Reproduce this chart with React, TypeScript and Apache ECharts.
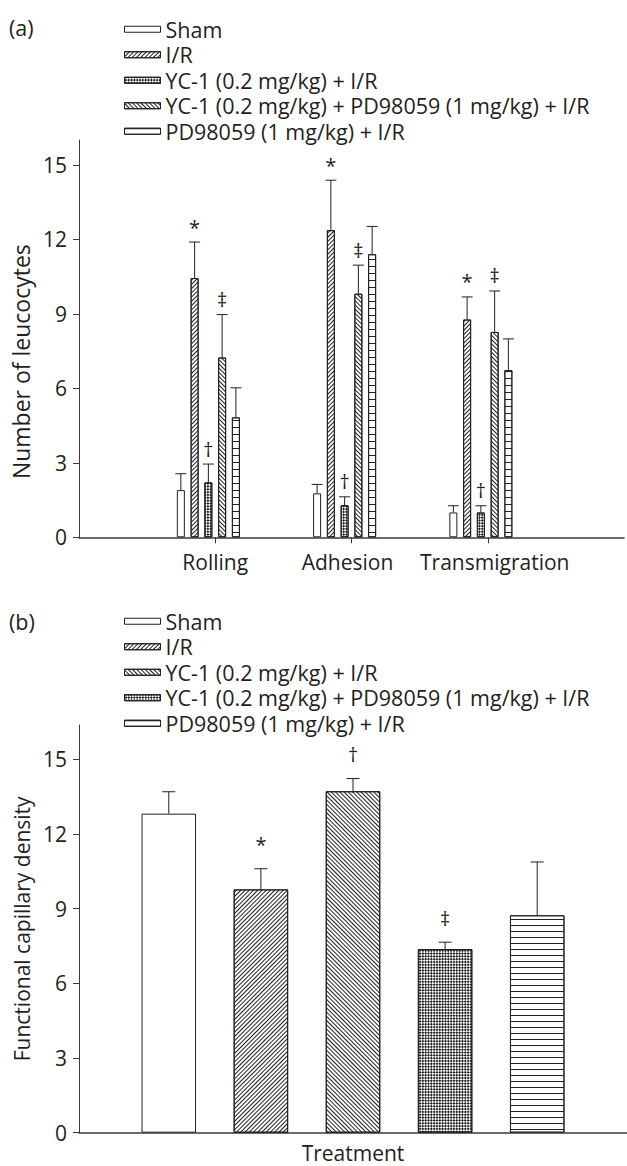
import React, { useEffect, useRef } from "react";
import * as echarts from "echarts";

const FONT = "'Open Sans', 'Noto Sans', sans-serif";
const INK = "#231f20";
const AXIS = "#3a3a3a";

// ---------- Panel (a) data ----------
const catsA = ["Rolling", "Adhesion", "Transmigration"];
const namesA = [
  "Sham",
  "I/R",
  "YC-1 (0.2 mg/kg) + I/R",
  "YC-1 (0.2 mg/kg) + PD98059 (1 mg/kg) + I/R",
  "PD98059 (1 mg/kg) + I/R",
];
const shamA = [1.9, 1.77, 1.0];
const irA = [10.44, 12.37, 8.77];
const ycA = [2.21, 1.29, 1.0];
const ycpdA = [7.24, 9.81, 8.27];
const pdA = [4.83, 11.4, 6.73];
const shamErrA = [0.66, 0.36, 0.27];
const irErrA = [1.45, 2.01, 0.91];
const ycErrA = [0.74, 0.34, 0.27];
const ycpdErrA = [1.73, 1.15, 1.65];
const pdErrA = [1.19, 1.12, 1.26];
const sigA = ["", "*", "†", "‡", ""];

// ---------- Panel (b) data ----------
const catsB = ["Treatment"];
const namesB = [
  "Sham",
  "I/R",
  "YC-1 (0.2 mg/kg) + I/R",
  "YC-1 (0.2 mg/kg) + PD98059 (1 mg/kg) + I/R",
  "PD98059 (1 mg/kg) + I/R",
];
const valuesB = [12.81, 9.77, 13.71, 7.37, 8.73];
const errB = [0.88, 0.83, 0.51, 0.28, 2.14];
const sigB = ["", "*", "†", "‡", ""];

const yTicks = [0, 3, 6, 9, 12, 15];

// ---------- patterns ----------
const lineDecal = (gap: number, rotation: number) => ({
  symbol: "rect",
  symbolSize: 1,
  color: INK,
  backgroundColor: "#ffffff",
  dashArrayX: [1, 0],
  dashArrayY: [1, gap],
  rotation,
});
const fwd = lineDecal(2, -Math.PI / 4);
const back = lineDecal(2, Math.PI / 4);
const horizA = lineDecal(6, 0);
const horizB = lineDecal(5, 0);
const cross = {
  symbol: "rect",
  symbolSize: 1,
  color: INK,
  backgroundColor: "#ffffff",
  dashArrayX: [
    [2, 2],
    [0, 2, 2, 0],
  ],
  dashArrayY: [2, 0],
  rotation: Math.PI / 4,
};

const decalsA: any[] = [null, fwd, cross, back, horizA];
const decalsB: any[] = [null, fwd, back, cross, horizB];

const txt = (size: number) => ({ color: INK, fontSize: size, fontFamily: FONT });

function yAxisCfg(name: string, max: number, nameSize: number, pad: number) {
  return {
    type: "value",
    min: 0,
    max,
    interval: 3,
    name,
    nameLocation: "middle",
    nameGap: 47,
    nameTextStyle: { ...txt(nameSize), lineHeight: nameSize, padding: [0, pad, 0, 0] },
    axisLine: { show: true, lineStyle: { color: AXIS, width: 1 } },
    axisTick: { show: true, length: 6, customValues: yTicks, lineStyle: { color: AXIS } },
    axisLabel: { ...txt(21), lineHeight: 21, margin: 12, customValues: yTicks },
    splitLine: { show: false },
  };
}

function legendCfg(names: string[], top: number) {
  return {
    data: names,
    orient: "vertical",
    left: 119,
    top,
    itemWidth: 36,
    itemHeight: 6,
    itemGap: 3.5,
    icon: "rect",
    selectedMode: false,
    textStyle: { ...txt(21.5), lineHeight: 21.5 },
    itemStyle: { borderColor: INK, borderWidth: 1 },
  };
}

function errSeries(
  slots: number,
  pitch: number,
  cap: number,
  gap: number,
  sigs: string[],
  data: number[][]
) {
  return {
    type: "custom",
    silent: true,
    encode: { x: 0, y: 2 },
    data,
    z: 5,
    renderItem: (params: any, api: any) => {
      const x = api.value(0);
      const s = api.value(1);
      const m = api.value(2);
      const e = api.value(3);
      const base = api.coord([x, m]);
      const top = api.coord([x, m + e]);
      const cx = base[0] + (s - (slots - 1) / 2) * pitch;
      const children: any[] = [
        {
          type: "line",
          shape: { x1: cx, y1: base[1], x2: cx, y2: top[1] },
          style: { stroke: INK, lineWidth: 1 },
        },
        {
          type: "line",
          shape: { x1: cx - cap / 2, y1: top[1], x2: cx + cap / 2, y2: top[1] },
          style: { stroke: INK, lineWidth: 1 },
        },
      ];
      const sg = sigs[s];
      if (sg) {
        children.push({
          type: "text",
          x: cx,
          y: top[1] - gap,
          style: {
            text: sg,
            fill: INK,
            fontSize: 20,
            fontFamily: FONT,
            align: "center",
            verticalAlign: "bottom",
          },
        });
      }
      return { type: "group", children };
    },
  };
}

function optionA() {
  const vals = [shamA, irA, ycA, ycpdA, pdA];
  const errs = [shamErrA, irErrA, ycErrA, ycpdErrA, pdErrA];
  const BW = 8;
  const GAP = 0.72;
  const slots = 6;
  const pitch = BW * (1 + GAP);
  const errData: number[][] = [];
  vals.forEach((arr, s) =>
    arr.forEach((v, j) => errData.push([j + 1, s, v, errs[s][j]]))
  );
  const bars: any[] = namesA.map((n, i) => ({
    type: "bar",
    name: n,
    data: [null, ...vals[i], null],
    barWidth: BW,
    barGap: `${GAP * 100}%`,
    itemStyle: {
      color: "#ffffff",
      borderColor: INK,
      borderWidth: 1,
      ...(decalsA[i] ? { decal: decalsA[i] } : {}),
    },
  }));
  bars.push({
    type: "bar",
    name: "slot",
    data: [null, null, null, null, null],
    barWidth: BW,
    barGap: `${GAP * 100}%`,
  });
  const catData: any[] = [
    "",
    { value: catsA[0] },
    { value: catsA[1], textStyle: { padding: [0, 8, 0, 0] } },
    { value: catsA[2], textStyle: { padding: [0, 0, 0, 14] } },
    "",
  ];
  return {
    animation: false,
    backgroundColor: "#ffffff",
    textStyle: { fontFamily: FONT },
    graphic: [
      { type: "text", left: 9, top: 16, style: { text: "(a)", fill: INK, fontSize: 21.5, fontFamily: FONT } },
    ],
    legend: legendCfg(namesA, 13.25),
    grid: { left: 79, top: 140, width: 554, height: 397.3 },
    xAxis: {
      type: "category",
      data: catData,
      boundaryGap: false,
      axisLine: { lineStyle: { color: AXIS, width: 1.5 } },
      axisTick: {
        show: true,
        length: 6,
        interval: (_i: number, v: string) => v !== "",
        lineStyle: { color: AXIS },
      },
      axisLabel: { ...txt(21), lineHeight: 21, margin: 14, interval: 0 },
    },
    yAxis: yAxisCfg("Number of leucocytes", 16, 23, 46),
    series: [...bars, errSeries(slots, pitch, 11, 5, sigA, errData)],
  };
}

function optionB() {
  const BW = 54.5;
  const GAP = 0.69;
  const slots = 5;
  const pitch = BW * (1 + GAP);
  const errData: number[][] = valuesB.map((v, s) => [0, s, v, errB[s]]);
  const bars: any[] = namesB.map((n, i) => ({
    type: "bar",
    name: n,
    data: [valuesB[i]],
    barWidth: BW,
    barGap: `${GAP * 100}%`,
    itemStyle: {
      color: "#ffffff",
      borderColor: INK,
      borderWidth: 1,
      ...(decalsB[i] ? { decal: decalsB[i] } : {}),
    },
  }));
  return {
    animation: false,
    backgroundColor: "#ffffff",
    textStyle: { fontFamily: FONT },
    graphic: [
      { type: "text", left: 9, top: 27, style: { text: "(b)", fill: INK, fontSize: 21.5, fontFamily: FONT } },
    ],
    legend: legendCfg(namesB, 22.25),
    grid: { left: 79, top: 142, width: 552, height: 407.7 },
    xAxis: {
      type: "category",
      data: catsB,
      axisLine: { lineStyle: { color: AXIS, width: 1.5 } },
      axisTick: { show: false },
      axisLabel: { ...txt(21), lineHeight: 21, margin: 10 },
    },
    yAxis: yAxisCfg("Functional capillary density", 16.37, 21, 0),
    series: [...bars, errSeries(slots, pitch, 13, 14, sigB, errData)],
  };
}

function Panel({ top, height, option }: { top: number; height: number; option: any }) {
  const ref = useRef<HTMLDivElement>(null);
  useEffect(() => {
    if (!ref.current) return;
    const chart = echarts.init(ref.current, undefined, { renderer: "svg" });
    chart.setOption(option);
    return () => chart.dispose();
  }, [option]);
  return (
    <div
      ref={ref}
      style={{ position: "absolute", left: 0, top, width: 627, height }}
    />
  );
}

const optA = optionA();
const optB = optionB();

export default function App() {
  return (
    <div
      style={{
        position: "absolute",
        left: 0,
        top: 0,
        width: 627,
        height: 1166,
        background: "#ffffff",
        overflow: "hidden",
      }}
    >
      <Panel top={0} height={583} option={optA} />
      <Panel top={583} height={583} option={optB} />
    </div>
  );
}
